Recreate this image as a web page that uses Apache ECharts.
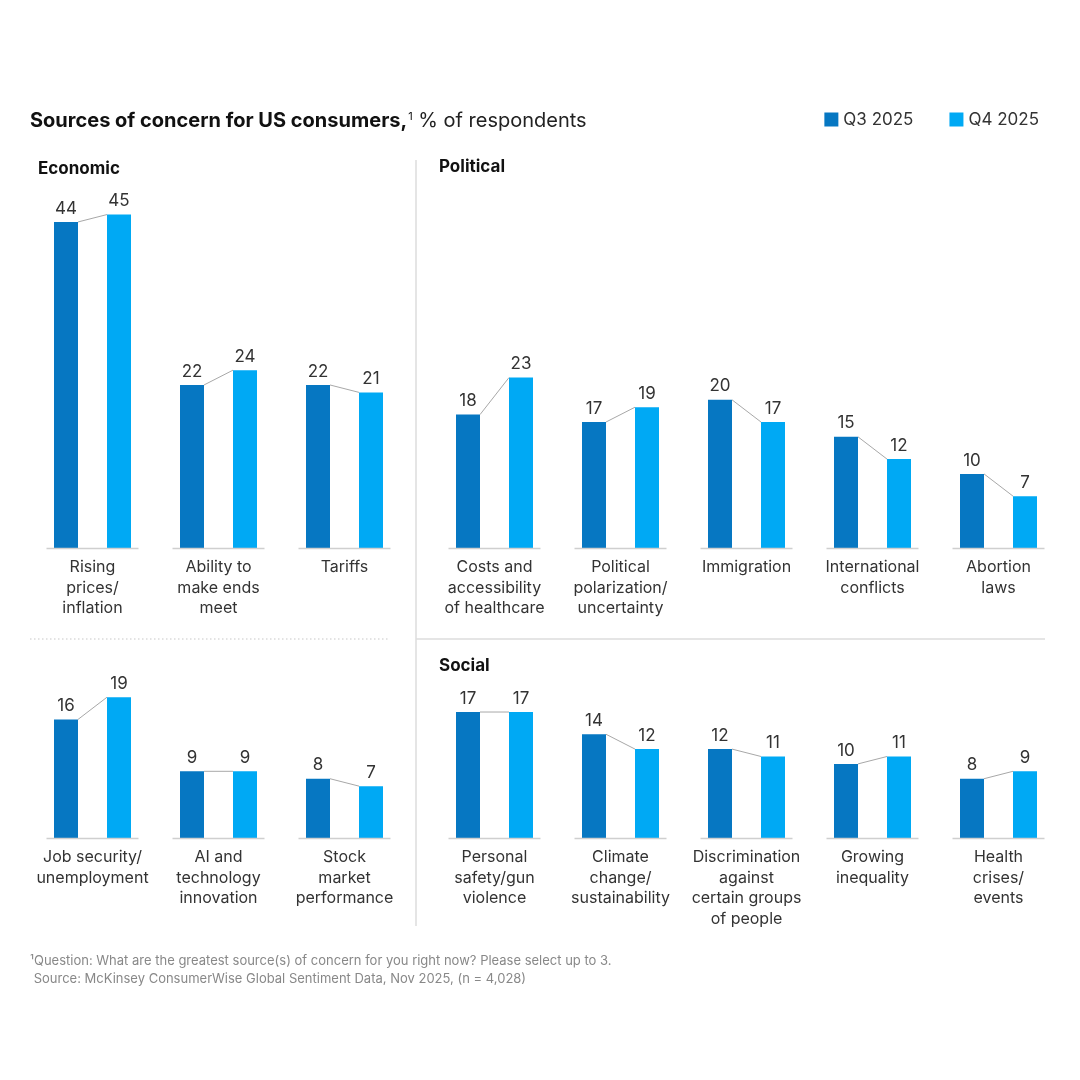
<!DOCTYPE html>
<html>
<head>
<meta charset="utf-8">
<script src="https://cdn.jsdelivr.net/npm/echarts@6/dist/echarts.min.js"></script>
<style>
  html, body { margin: 0; padding: 0; background: #fff; }
  #chart { width: 1080px; height: 1080px; }
</style>
</head>
<body>
<div id="chart"></div>
<script>
// data
const seriesNames = ['Q3 2025', 'Q4 2025'];

const economicCats = ['Rising\nprices/\ninflation', 'Ability to\nmake ends\nmeet', 'Tariffs'];
const economicQ3 = [44, 22, 22];
const economicQ4 = [45, 24, 21];

const economic2Cats = ['Job security/\nunemployment', 'AI and\ntechnology\ninnovation', 'Stock\nmarket\nperformance'];
const economic2Q3 = [16, 9, 8];
const economic2Q4 = [19, 9, 7];

const politicalCats = ['Costs and\naccessibility\nof healthcare', 'Political\npolarization/\nuncertainty', 'Immigration', 'International\nconflicts', 'Abortion\nlaws'];
const politicalQ3 = [18, 17, 20, 15, 10];
const politicalQ4 = [23, 19, 17, 12, 7];

const socialCats = ['Personal\nsafety/gun\nviolence', 'Climate\nchange/\nsustainability', 'Discrimination\nagainst\ncertain groups\nof people', 'Growing\ninequality', 'Health\ncrises/\nevents'];
const socialQ3 = [17, 14, 12, 10, 8];
const socialQ4 = [17, 12, 11, 11, 9];

const COLOR_Q3 = '#0677c2';
const COLOR_Q4 = '#00a9f4';
const FONT = 'Inter, "Liberation Sans", sans-serif';
const BAR_W = 24, BAR_GAP = 29;
const PX_PER_UNIT = 7.41;

// panels: grid geometry + data
const panels = [
  { cats: economicCats, q3: economicQ3, q4: economicQ4, left: 29.5, base: 548, max: 50 },
  { cats: politicalCats, q3: politicalQ3, q4: politicalQ4, left: 431.5, base: 548, max: 50 },
  { cats: economic2Cats, q3: economic2Q3, q4: economic2Q4, left: 29.5, base: 838, max: 20 },
  { cats: socialCats, q3: socialQ3, q4: socialQ4, left: 431.5, base: 838, max: 20 }
];

let chart = echarts.init(document.getElementById('chart'));

let grid = [], xAxis = [], yAxis = [], series = [];
panels.forEach((p, i) => {
  let h = p.max * PX_PER_UNIT;
  grid.push({ left: p.left, top: p.base - h, width: p.cats.length * 126, height: h });
  xAxis.push({
    type: 'category', gridIndex: i, data: p.cats,
    axisLine: { show: false }, axisTick: { show: false },
    axisLabel: { color: '#333', fontSize: 16, lineHeight: 20.5, margin: 9, fontFamily: FONT, interval: 0 }
  });
  yAxis.push({ type: 'value', gridIndex: i, min: 0, max: p.max, show: false, splitLine: { show: false } });
  [p.q3, p.q4].forEach((vals, k) => {
    series.push({
      name: seriesNames[k], type: 'bar', xAxisIndex: i, yAxisIndex: i,
      data: vals, barWidth: BAR_W, barGap: (BAR_GAP / BAR_W * 100) + '%',
      itemStyle: { color: k === 0 ? COLOR_Q3 : COLOR_Q4 },
      label: { show: true, position: 'top', distance: 5, color: '#333', fontSize: 17, fontFamily: FONT },
      z: 2
    });
  });
  // baseline segment per category + connector between the bar tops
  series.push({
    type: 'custom', xAxisIndex: i, yAxisIndex: i, z: 3, silent: true,
    data: p.cats.map((c, j) => [j, p.q3[j], p.q4[j]]),
    renderItem: (params, api) => {
      let idx = api.value(0);
      let base = api.coord([idx, 0]);
      let a = api.coord([idx, api.value(1)]);
      let b = api.coord([idx, api.value(2)]);
      let off = (BAR_W + BAR_GAP) / 2 - BAR_W / 2;
      return {
        type: 'group',
        children: [
          { type: 'line', shape: { x1: base[0] - 46, y1: base[1] + 0.5, x2: base[0] + 46, y2: base[1] + 0.5 },
            style: { stroke: '#cfcfcf', lineWidth: 1.5 } },
          { type: 'line', shape: { x1: base[0] - off, y1: a[1], x2: base[0] + off, y2: b[1] },
            style: { stroke: '#a8a8a8', lineWidth: 1 } }
        ]
      };
    }
  });
});

let option = {
  backgroundColor: '#fff',
  animation: false,
  textStyle: { fontFamily: FONT },
  title: {
    left: 30, top: 111, padding: 0,
    text: '{b|Sources of concern for US consumers,}{s|1}{r| % of respondents}',
    textStyle: {
      rich: {
        b: { fontSize: 20, fontWeight: 'bold', color: '#111', fontFamily: FONT },
        s: { fontSize: 11, fontWeight: 'normal', color: '#111', fontFamily: FONT, padding: [0, 0, 9, 1] },
        r: { fontSize: 20, fontWeight: 'normal', color: '#222', fontFamily: FONT }
      }
    }
  },
  legend: {
    data: seriesNames, right: 36, top: 106, icon: 'rect',
    itemWidth: 14, itemHeight: 14, itemGap: 36,
    textStyle: { fontSize: 17, color: '#333', fontFamily: FONT }
  },
  grid: grid, xAxis: xAxis, yAxis: yAxis, series: series,
  graphic: [
    { type: 'text', left: 38, top: 160, style: { text: 'Economic', fill: '#111', font: 'bold 17px ' + FONT } },
    { type: 'text', left: 439, top: 158, style: { text: 'Political', fill: '#111', font: 'bold 17px ' + FONT } },
    { type: 'text', left: 439, top: 657, style: { text: 'Social', fill: '#111', font: 'bold 17px ' + FONT } },
    { type: 'line', shape: { x1: 416, y1: 160, x2: 416, y2: 926 }, style: { stroke: '#dcdcdc', lineWidth: 1.5 } },
    { type: 'line', shape: { x1: 416, y1: 639, x2: 1045, y2: 639 }, style: { stroke: '#dcdcdc', lineWidth: 1.5 } },
    { type: 'line', shape: { x1: 30, y1: 639, x2: 390, y2: 639 }, style: { stroke: '#c8c8c8', lineWidth: 1.2, lineDash: [1.5, 2.5] } },
    { type: 'text', left: 30, top: 952, style: {
        text: '¹Question: What are the greatest source(s) of concern for you right now? Please select up to 3.\n Source: McKinsey ConsumerWise Global Sentiment Data, Nov 2025, (n = 4,028)',
        font: '13px ' + FONT, fill: '#888', lineHeight: 18 } }
  ]
};

chart.setOption(option);
</script>
</body>
</html>
